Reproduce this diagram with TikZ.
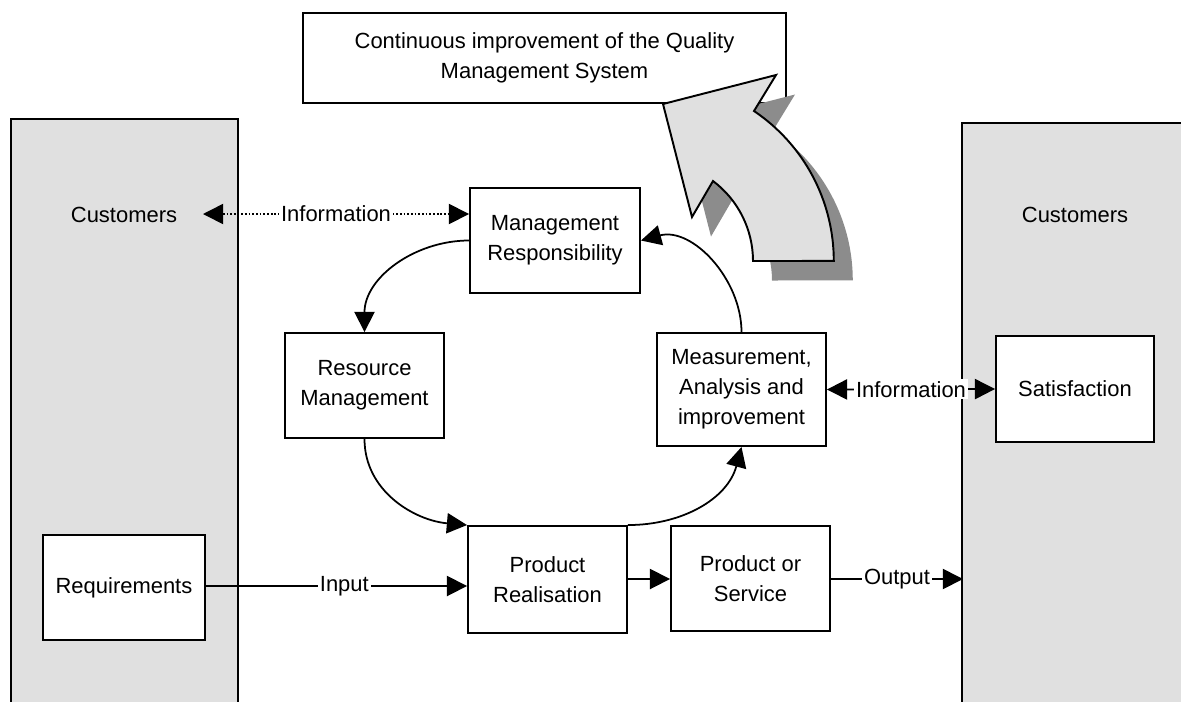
\documentclass[tikz,border=0pt]{standalone}
\usepackage{fontspec}
\setmainfont{Liberation Sans}
\usetikzlibrary{arrows.meta}
\definecolor{panelgray}{HTML}{E0E0E0}
\definecolor{arrowfill}{HTML}{E0E0E0}
\definecolor{shadowgray}{HTML}{8C8C8C}
\tikzset{
  txt/.style={font=\fontsize{12.5}{17}\selectfont, align=center, inner sep=0pt},
  box/.style={txt, draw=black, line width=1.1pt, fill=white},
  panel/.style={fill=panelgray},
  tip/.style={-{Triangle[length=11.5pt,width=11.5pt]}},
  dtip/.style={{Triangle[length=11.5pt,width=11.5pt]}-{Triangle[length=11.5pt,width=11.5pt]}},
  conn/.style={line width=1pt, black},
  lab/.style={txt, fill=white, inner sep=1pt},
}
\begin{document}
\begin{tikzpicture}[x=0.02cm,y=0.02cm]
\useasboundingbox (0,0) rectangle (1181,-701);
% panels
\fill[panel] (11,-119) rectangle (238,-710);
\draw[line width=1.1pt] (11,-710) -- (11,-119) -- (238,-119) -- (238,-710);
\fill[panel] (962,-123) rectangle (1190,-710);
\draw[line width=1.1pt] (962,-710) -- (962,-123) -- (1190,-123);
\node[txt] (custL) at (124,-215) {Customers};
\node[txt] (custR) at (1075,-215) {Customers};
% top box
\node[box, minimum width=9.66cm, minimum height=1.8cm] (top) at (544.5,-58)
  {Continuous improvement of the Quality\\Management System};
% big arrow shadow and arrow
\path[fill=shadowgray, xshift=0.38cm, yshift=-0.39cm]
  (776,-75) -- (754,-111) arc[start angle=56.04, end angle=0, radius=3.616cm]
  -- (753,-261) arc[start angle=0, end angle=53.13, radius=2cm]
  -- (692,-217) -- (663,-104) -- cycle;
\draw[fill=arrowfill, line width=1.1pt, line join=miter]
  (776,-75) -- (754,-111) arc[start angle=56.04, end angle=0, radius=3.616cm]
  -- (753,-261) arc[start angle=0, end angle=53.13, radius=2cm]
  -- (692,-217) -- (663,-104) -- cycle;
% boxes
\node[box, minimum width=3.4cm, minimum height=2.1cm] (MR) at (555,-240.5) {Management\\Responsibility};
\node[box, minimum width=3.18cm, minimum height=2.1cm] (RM) at (364.5,-385.5) {Resource\\Management};
\node[box, minimum width=3.38cm, minimum height=2.26cm] (Meas) at (741.5,-389.5) {Measurement,\\Analysis and\\improvement};
\node[box, minimum width=3.16cm, minimum height=2.12cm] (Sat) at (1075,-389) {Satisfaction};
\node[box, minimum width=3.24cm, minimum height=2.1cm] (Req) at (124,-587.5) {Requirements};
\node[box, minimum width=3.18cm, minimum height=2.14cm] (PR) at (547.5,-579.5) {Product\\Realisation};
\node[box, minimum width=3.18cm, minimum height=2.1cm] (PS) at (750.5,-578.5) {Product or\\Service};
% coordinates
\coordinate (cl) at (203,-214);
\coordinate (yin) at (0,-586);
\coordinate (yps) at (0,-579);
\coordinate (rp) at (963,-579);
% connectors
\draw[conn, dtip, line width=0.9pt, dash pattern=on 1pt off 1.1pt] (cl) -- node[lab]{Information} (MR.west |- cl);
\draw[conn, tip] (MR.west) to[out=180,in=90] (RM.north);
\draw[conn, tip] (RM.south) to[out=-90,in=175] (PR.north west);
\draw[conn, tip] (PR.north east) to[out=0,in=-105] (Meas.south);
\draw[conn, tip] (Meas.north) to[out=90,in=15] (MR.east);
\draw[conn, dtip] (Meas.east) -- node[lab]{Information} (Sat.west);
\draw[conn, tip] (Req.east |- yin) -- node[lab, pos=0.53]{Input} (PR.west |- yin);
\draw[conn, tip] (PR.east |- yps) -- (PS.west |- yps);
\draw[conn, tip] (PS.east |- rp) -- node[lab]{Output} (rp);
\end{tikzpicture}
\end{document}
